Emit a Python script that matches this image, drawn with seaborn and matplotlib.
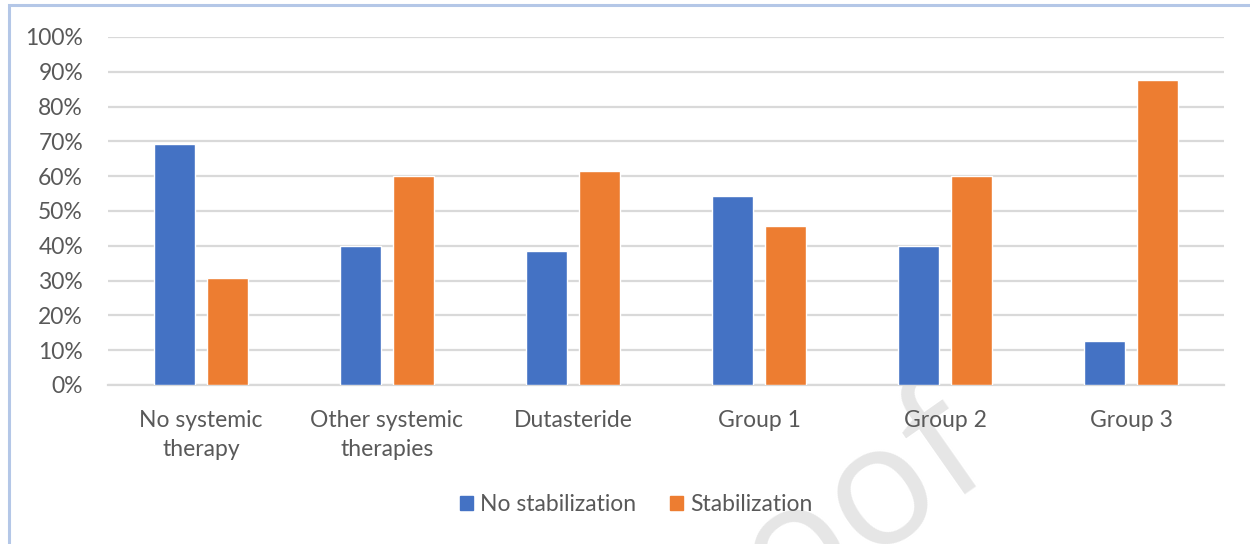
import matplotlib
matplotlib.use("Agg")
import matplotlib.pyplot as plt
import matplotlib.patches as mpatches
import numpy as np
import pandas as pd
import seaborn as sns

categories = ["No systemic\ntherapy", "Other systemic\ntherapies", "Dutasteride",
              "Group 1", "Group 2", "Group 3"]
no_stabilization = [69.3, 40.0, 38.5, 54.3, 40.0, 12.5]
stabilization = [30.7, 60.0, 61.5, 45.7, 60.0, 87.5]
series_names = ["No stabilization", "Stabilization"]
y_ticks = [0, 10, 20, 30, 40, 50, 60, 70, 80, 90, 100]

BLUE = "#4472C4"
ORANGE = "#ED7D31"
TEXT = "#595959"
GRID = "#D9D9D9"

df = pd.DataFrame({
    "category": categories * 2,
    "value": no_stabilization + stabilization,
    "series": [series_names[0]] * len(categories) + [series_names[1]] * len(categories),
})

sns.set_theme(style="white")
plt.rcParams["font.family"] = ["Lato", "DejaVu Sans"]

fig = plt.figure(figsize=(12.5, 5.44), dpi=100)
fig.patch.set_facecolor("white")
ax = fig.add_axes([0.0864, 0.2923, 0.8928, 0.6397], zorder=1)
ax.patch.set_alpha(0)

sns.barplot(data=df, x="category", y="value", hue="series", order=categories,
            hue_order=series_names, palette=[BLUE, ORANGE], saturation=1,
            width=0.57, gap=0.21, ax=ax, legend=False, zorder=3)

ax.set_xlim(-0.5, len(categories) - 0.5)
ax.set_ylim(0, 100)
ax.set_yticks(y_ticks)
ax.set_yticklabels([f"{t}%" for t in y_ticks])
ax.yaxis.grid(True, color=GRID, linewidth=1.6, zorder=0)
ax.set_axisbelow(True)
for side in ["top", "right", "left"]:
    ax.spines[side].set_visible(False)
ax.spines["bottom"].set_color(GRID)
ax.spines["bottom"].set_linewidth(1.6)
ax.tick_params(axis="both", length=0, labelsize=16.5, colors=TEXT)
ax.tick_params(axis="y", pad=18)
ax.tick_params(axis="x", pad=18)
for lab in ax.get_xticklabels():
    lab.set_linespacing(1.45)
ax.set_xlabel("")
ax.set_ylabel("")

handles = [mpatches.Patch(color=BLUE, label=series_names[0]),
           mpatches.Patch(color=ORANGE, label=series_names[1])]
fig.legend(handles=handles, loc="center", bbox_to_anchor=(0.509, 0.072), ncol=2,
           frameon=False, fontsize=16.5, labelcolor=TEXT, handlelength=0.55,
           handleheight=0.55, handletextpad=0.3, columnspacing=1.5)

# Outer chart frame
frame = mpatches.Rectangle((8.5 / 1250, -0.2), 1.5, 1.2 - 5.5 / 544,
                           transform=fig.transFigure, fill=False,
                           edgecolor="#B4C7E7", linewidth=2.2, zorder=10)
fig.patches.append(frame)

# Draft watermark, kept behind the chart
fig.text(1000 / 1250, 1 - 480 / 544, "Journal Pre-proof", fontsize=122,
         color="#E6E6E6", rotation=35, rotation_mode="anchor",
         ha="right", va="baseline", family=["Open Sans", "DejaVu Sans"], zorder=0)

fig.savefig("out.png", dpi=100, facecolor="white")
